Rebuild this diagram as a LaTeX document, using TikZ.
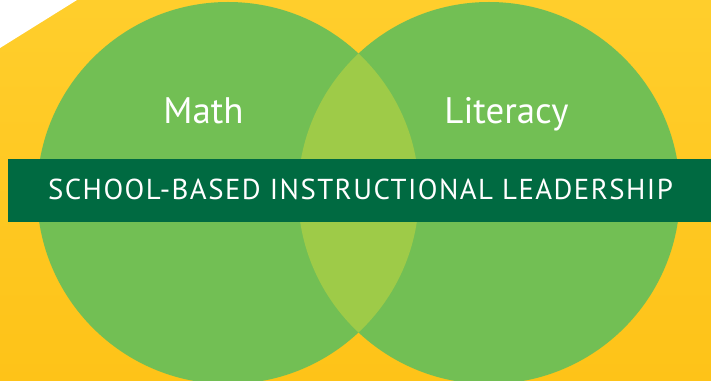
\documentclass[tikz,border=0pt]{standalone}
\usepackage{fontspec}
\setmainfont{PT Sans}
\definecolor{sunny}{RGB}{255,206,44}
\definecolor{sunnydark}{RGB}{254,195,24}
\definecolor{leaf}{RGB}{114,191,84}
\definecolor{lime}{RGB}{158,203,72}
\definecolor{forest}{RGB}{0,106,65}
\tikzset{
  circle label/.style={text=white,inner sep=0pt,anchor=base,font=\fontsize{21}{24}\selectfont},
  banner label/.style={text=white,inner sep=0pt,anchor=base,font=\fontsize{16.4}{19}\selectfont\addfontfeatures{LetterSpace=5}}
}
\begin{document}
\begin{tikzpicture}[x=0.02cm,y=-0.02cm]
\shade[top color=sunny,bottom color=sunnydark] (0,0) rectangle (711,381);
\useasboundingbox (0,0) rectangle (711,381);
\fill[white] (0,0)--(77,0)--(0,48)--cycle;

% the two sets
\fill[leaf] (228,193) circle (191);
\fill[leaf] (489,193) circle (191);
\begin{scope}
\clip (228,193) circle (191);
\fill[lime] (489,193) circle (191);
\end{scope}

\fill[forest] (8,159) rectangle (711,222);
\node[circle label] (math) at (203.5,123.3) {Math};
\node[circle label] (literacy) at (506.5,124) {Literacy};
\node[banner label] (leadership) at (360.5,199.3) {SCHOOL-BASED INSTRUCTIONAL LEADERSHIP};
\end{tikzpicture}
\end{document}
